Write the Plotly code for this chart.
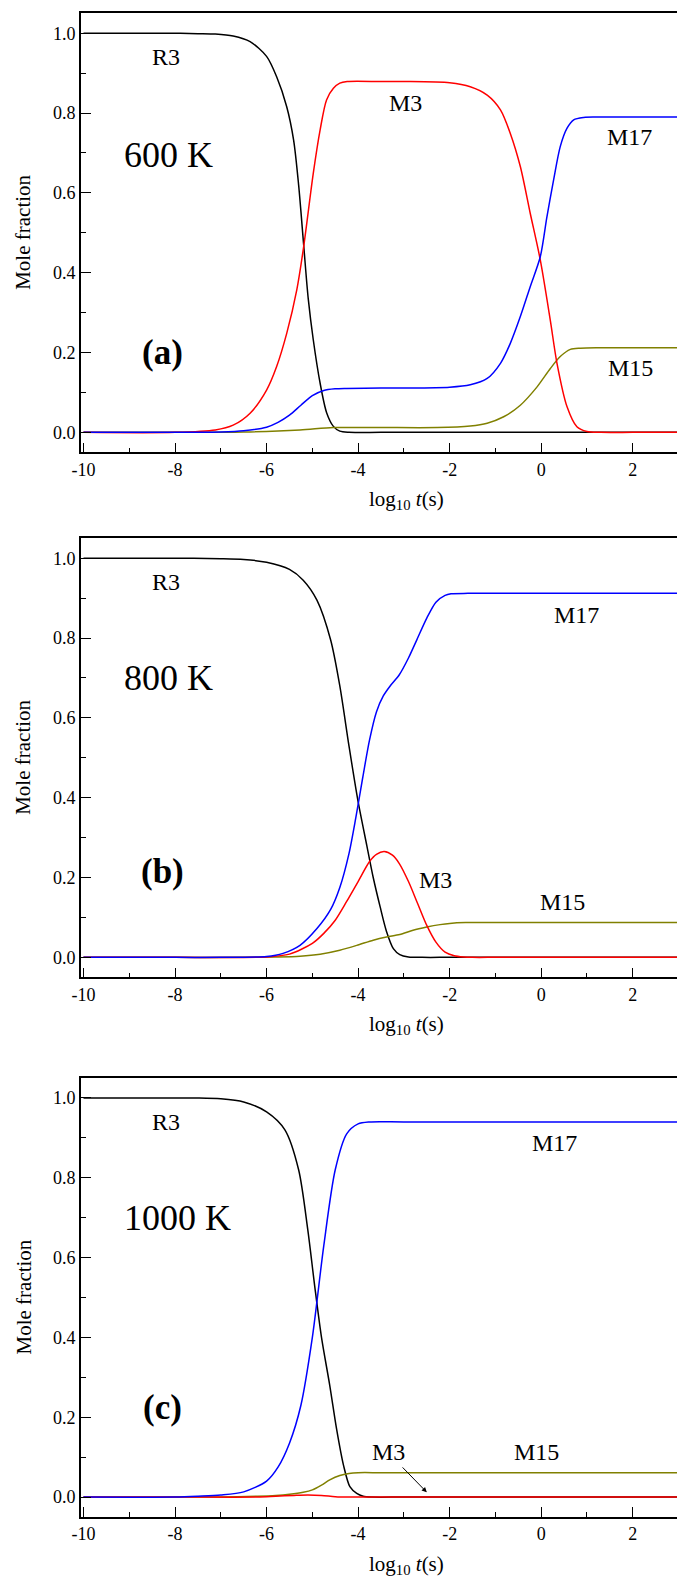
import plotly.graph_objects as go

# ---------------- data (log10 t, mole fraction) ----------------
# Panel (a) 600 K
R3_a_x = [-10, -8, -7.5, -7.12, -6.73, -6.36, -6.0, -5.78, -5.56, -5.41, -5.30, -5.19, -5.09, -4.98, -4.83, -4.69, -4.54, -4.40, -4.2, -3.5, -2, 0, 3]
R3_a_y = [1.0, 1.0, 0.999, 0.998, 0.993, 0.979, 0.942, 0.891, 0.816, 0.733, 0.620, 0.470, 0.335, 0.232, 0.123, 0.050, 0.015, 0.003, 0.0, 0.0, 0.0, 0.0, 0.0]
M3_a_x = [-10, -8, -7.12, -6.73, -6.36, -6.0, -5.78, -5.56, -5.34, -5.19, -4.98, -4.83, -4.69, -4.54, -4.40, -4.24, -3.5, -3, -2, -1.55, -1.18, -0.89, -0.675, -0.456, -0.24, -0.02, 0.2, 0.345, 0.565, 0.78, 1.0, 1.3, 2, 3]
M3_a_y = [0, 0, 0.006, 0.018, 0.048, 0.106, 0.165, 0.248, 0.357, 0.465, 0.649, 0.758, 0.833, 0.862, 0.875, 0.879, 0.879, 0.879, 0.876, 0.866, 0.845, 0.808, 0.749, 0.666, 0.549, 0.432, 0.28, 0.173, 0.064, 0.014, 0.002, 0, 0, 0]
M17_a_x = [-10, -8, -7, -6.5, -6.0, -5.75, -5.5, -5.25, -5.0, -4.75, -4.5, -4.25, -3.5, -3, -2, -1.55, -1.18, -0.89, -0.675, -0.456, -0.24, -0.02, 0.125, 0.27, 0.416, 0.565, 0.71, 0.93, 1.2, 2, 3]
M17_a_y = [0, 0, 0.001, 0.004, 0.013, 0.025, 0.043, 0.068, 0.092, 0.105, 0.109, 0.110, 0.111, 0.111, 0.113, 0.119, 0.135, 0.173, 0.223, 0.290, 0.365, 0.440, 0.540, 0.632, 0.716, 0.762, 0.783, 0.789, 0.790, 0.790, 0.790]
M15_a_x = [-10, -8, -6.5, -5.27, -4.54, -3.5, -2.27, -1.55, -1.18, -0.82, -0.456, -0.09, 0.2, 0.416, 0.637, 0.86, 1.2, 2, 3]
M15_a_y = [0, 0, 0.001, 0.006, 0.012, 0.012, 0.012, 0.016, 0.023, 0.039, 0.068, 0.114, 0.160, 0.190, 0.208, 0.211, 0.212, 0.212, 0.212]

# Panel (b) 800 K
R3_b_x = [-10, -8, -7, -6.5, -6.0, -5.5, -5.2, -4.9, -4.6, -4.4, -4.2, -4.0, -3.81, -3.67, -3.52, -3.38, -3.23, -3.09, -2.9, -2.6, -2, 0, 3]
R3_b_y = [1.0, 1.0, 0.999, 0.997, 0.99, 0.972, 0.945, 0.895, 0.795, 0.68, 0.53, 0.39, 0.28, 0.20, 0.127, 0.065, 0.022, 0.007, 0.001, 0, 0, 0, 0]
M3_b_x = [-10, -8, -6.0, -5.5, -5.0, -4.75, -4.5, -4.25, -4.0, -3.75, -3.6, -3.43, -3.25, -3.1, -2.9, -2.7, -2.5, -2.3, -2.1, -1.9, -1.7, -1.5, -1, 0, 3]
M3_b_y = [0, 0, 0.001, 0.008, 0.035, 0.060, 0.093, 0.140, 0.190, 0.240, 0.258, 0.265, 0.256, 0.235, 0.190, 0.135, 0.080, 0.038, 0.013, 0.004, 0.001, 0, 0, 0, 0]
M17_b_x = [-10, -8, -7, -6.0, -5.64, -5.27, -4.9, -4.6, -4.4, -4.2, -4.05, -3.9, -3.75, -3.6, -3.45, -3.3, -3.1, -2.9, -2.72, -2.5, -2.3, -2.1, -1.97, -1.6, -1, 0, 3]
M17_b_y = [0, 0, 0, 0.002, 0.010, 0.030, 0.072, 0.120, 0.175, 0.260, 0.350, 0.450, 0.545, 0.615, 0.655, 0.680, 0.708, 0.750, 0.795, 0.850, 0.890, 0.907, 0.911, 0.912, 0.912, 0.912, 0.912]
M15_b_x = [-10, -8, -6.5, -5.8, -5.27, -4.83, -4.4, -4.03, -3.67, -3.38, -3.09, -2.8, -2.5, -2.21, -2.0, -1.65, -1, 0, 3]
M15_b_y = [0, 0, 0, 0.001, 0.003, 0.008, 0.018, 0.030, 0.043, 0.051, 0.057, 0.068, 0.076, 0.082, 0.085, 0.087, 0.087, 0.087, 0.087]

# Panel (c) 1000 K
R3_c_x = [-10, -8, -7.5, -7, -6.5, -6, -5.6, -5.3, -5.1, -4.95, -4.8, -4.62, -4.47, -4.32, -4.18, -4.03, -3.89, -3.7, -3, 0, 3]
R3_c_y = [1, 1, 1, 0.998, 0.99, 0.965, 0.92, 0.82, 0.67, 0.53, 0.40, 0.28, 0.17, 0.08, 0.026, 0.009, 0.002, 0, 0, 0, 0]
M3_c_x = [-10, -8, -6.2, -5.8, -5.4, -5.1, -4.8, -4.5, -4.2, -3.5, -2, 0, 3]
M3_c_y = [0, 0, 0, 0.002, 0.004, 0.005, 0.004, 0.001, 0, 0, 0, 0, 0]
M17_c_x = [-10, -8, -7.5, -7.0, -6.5, -6.0, -5.75, -5.5, -5.25, -5.0, -4.75, -4.5, -4.25, -4.0, -3.75, -3, 0, 3]
M17_c_y = [0, 0, 0.002, 0.005, 0.013, 0.040, 0.075, 0.135, 0.230, 0.400, 0.630, 0.820, 0.910, 0.935, 0.940, 0.940, 0.940, 0.940]
M15_c_x = [-10, -8, -7, -6.2, -5.8, -5.5, -5.2, -5.0, -4.8, -4.62, -4.4, -4.2, -4.0, -3.5, -2, 0, 3]
M15_c_y = [0, 0, 0, 0.002, 0.004, 0.007, 0.012, 0.018, 0.030, 0.043, 0.054, 0.059, 0.061, 0.061, 0.061, 0.061, 0.061]

x_tick_vals = [-10, -8, -6, -4, -2, 0, 2]
x_tick_text = ["-10", "-8", "-6", "-4", "-2", "0", "2"]
x_minor_vals = [-9, -7, -5, -3, -1, 1, 3]
y_tick_vals = [0.0, 0.2, 0.4, 0.6, 0.8, 1.0]
y_tick_text = ["0.0", "0.2", "0.4", "0.6", "0.8", "1.0"]
y_minor_vals = [0.1, 0.3, 0.5, 0.7, 0.9]

# ---------------- layout helpers ----------------
W, H = 677, 1582
FONT = "Liberation Serif, Times New Roman, serif"
COL = {"R3": "#000000", "M3": "#ff0000", "M17": "#0000ff", "M15": "#808000"}


def pyf(px):
    return 1 - px / H


panels = [
    dict(top=13.3, bottom=452.3, title_y=500,
         series=[("R3", R3_a_x, R3_a_y), ("M15", M15_a_x, M15_a_y), ("M3", M3_a_x, M3_a_y), ("M17", M17_a_x, M17_a_y)],
         temp="600 K", tag="(a)",
         labels=[("R3", -8.2, 0.94), ("M3", -2.97, 0.824), ("M17", 1.92, 0.739), ("M15", 1.95, 0.16)],
         temp_pos=(-8.15, 0.695), tag_pos=(-8.28, 0.20)),
    dict(top=538.3, bottom=977.3, title_y=1025,
         series=[("R3", R3_b_x, R3_b_y), ("M15", M15_b_x, M15_b_y), ("M3", M3_b_x, M3_b_y), ("M17", M17_b_x, M17_b_y)],
         temp="800 K", tag="(b)",
         labels=[("R3", -8.2, 0.94), ("M17", 0.77, 0.858), ("M3", -2.32, 0.194), ("M15", 0.46, 0.139)],
         temp_pos=(-8.15, 0.70), tag_pos=(-8.28, 0.215)),
    dict(top=1078, bottom=1517, title_y=1565,
         series=[("R3", R3_c_x, R3_c_y), ("M15", M15_c_x, M15_c_y), ("M3", M3_c_x, M3_c_y), ("M17", M17_c_x, M17_c_y)],
         temp="1000 K", tag="(c)",
         labels=[("R3", -8.2, 0.94), ("M17", 0.3, 0.886), ("M3", -3.34, 0.114), ("M15", -0.1, 0.114)],
         temp_pos=(-7.95, 0.70), tag_pos=(-8.28, 0.225)),
]

fig = go.Figure()
annotations = []
L = 81
plot_w = W - L
x0 = -10 - (83.5 - L) / 45.77
x1 = x0 + plot_w / 45.77

for i, p in enumerate(panels):
    k = "" if i == 0 else str(i + 1)
    xa, ya = "x" + k, "y" + k
    for name, xs, ys in p["series"]:
        fig.add_trace(go.Scatter(x=xs, y=ys, mode="lines", name=name, xaxis=xa, yaxis=ya,
                                 line=dict(color=COL[name], width=1.5, shape="spline", smoothing=0.8),
                                 showlegend=False, hoverinfo="skip"))
    fig.update_layout(**{
        "xaxis" + k: dict(domain=[0, 1], anchor=ya, range=[x0, x1], showgrid=False, zeroline=False,
                          showline=True, linecolor="black", linewidth=1.6, mirror=True,
                          ticks="inside", ticklen=10, tickwidth=1.4, tickcolor="black",
                          tickmode="array", tickvals=x_tick_vals, ticktext=x_tick_text,
                          minor=dict(ticks="inside", ticklen=5, tickwidth=1.4, tickcolor="black",
                                     tickmode="array", tickvals=x_minor_vals),
                          tickfont=dict(family=FONT, size=18, color="black"), automargin=False),
        "yaxis" + k: dict(domain=[pyf(p["bottom"]), pyf(p["top"])], anchor=xa, range=[-0.05, 1.05],
                          showgrid=False, zeroline=False, showline=True, linecolor="black", linewidth=1.6,
                          mirror=False, ticks="inside", ticklen=10, tickwidth=1.4, tickcolor="black",
                          tickmode="array", tickvals=y_tick_vals, ticktext=y_tick_text,
                          minor=dict(ticks="inside", ticklen=5, tickwidth=1.4, tickcolor="black",
                                     tickmode="array", tickvals=y_minor_vals),
                          tickfont=dict(family=FONT, size=18, color="black"), automargin=False),
    })
    for txt, lx, ly in p["labels"]:
        annotations.append(dict(x=lx, y=ly, xref=xa, yref=ya, text=txt, showarrow=False,
                                font=dict(family=FONT, size=24, color="black")))
    annotations.append(dict(x=p["temp_pos"][0], y=p["temp_pos"][1], xref=xa, yref=ya, text=p["temp"],
                            showarrow=False, font=dict(family=FONT, size=36, color="black")))
    annotations.append(dict(x=p["tag_pos"][0], y=p["tag_pos"][1], xref=xa, yref=ya, text="<b>" + p["tag"] + "</b>",
                            showarrow=False, font=dict(family=FONT, size=35, color="black")))
    # axis titles
    annotations.append(dict(x=-(L - 23) / plot_w, y=0.5, xref="paper", yref=ya, text="Mole fraction",
                            textangle=-90, showarrow=False, xanchor="center", yanchor="middle",
                            font=dict(family=FONT, size=21, color="black")))
    annotations.append(dict(x=-2.95, y=pyf(p["title_y"]), xref=xa, yref="paper",
                            text="log<sub>10</sub> <i>t</i>(s)", showarrow=False, xanchor="center",
                            yanchor="middle", font=dict(family=FONT, size=21, color="black")))

# arrow in panel (c) pointing to M3
annotations.append(dict(x=-2.50, y=0.012, xref="x3", yref="y3", ax=-3.06, ay=0.078, axref="x3", ayref="y3",
                        text="", showarrow=True, arrowhead=2, arrowsize=1, arrowwidth=1, arrowcolor="black"))

fig.update_layout(width=W, height=H, margin=dict(l=L, r=0, t=0, b=0, pad=0),
                  paper_bgcolor="white", plot_bgcolor="white", annotations=annotations,
                  font=dict(family=FONT, color="black"))

fig.write_html("out.html")
